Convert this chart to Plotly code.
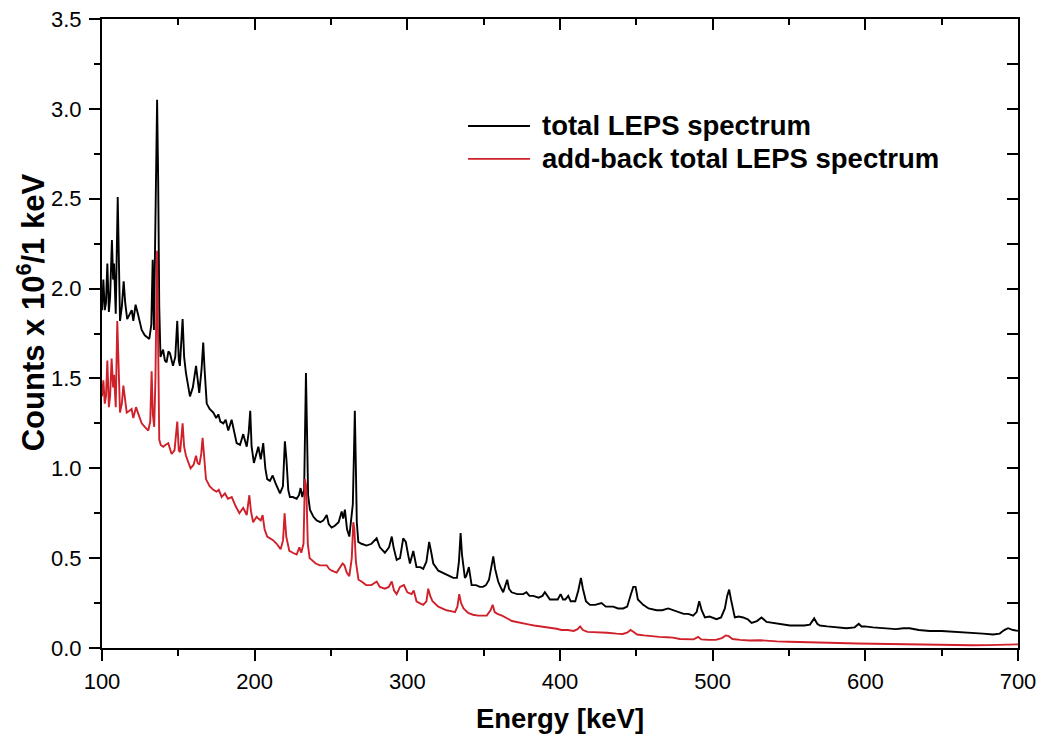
import plotly.graph_objects as go

# Total LEPS spectrum (energy in keV, counts in units of 10^6 per 1 keV)
energy_total = [
    100.0, 100.9, 101.8, 102.6, 103.5, 104.5, 105.3, 106.5, 107.3, 107.9,
    109.0, 110.3, 111.8, 113.0, 114.2, 115.2, 116.5, 118.0, 119.5, 120.5,
    122.0, 123.5, 126.0, 128.0, 131.0, 132.3, 133.2, 134.0, 135.0, 135.5,
    136.1, 136.8, 137.5, 138.3, 140.0, 141.2, 142.3, 143.5, 144.5, 146.5,
    148.0, 149.3, 150.3, 151.0, 152.8, 153.8, 155.0, 157.6, 159.5, 161.6,
    162.7, 163.7, 165.2, 166.3, 167.2, 168.6, 170.5, 172.9, 174.8, 176.2,
    177.5, 179.5, 181.0, 182.7, 184.9, 186.5, 188.2, 190.4, 192.5, 194.8,
    196.1, 197.1, 198.0, 199.5, 201.0, 202.4, 204.0, 205.6, 207.0, 208.2,
    210.0, 211.8, 213.5, 216.6, 218.5, 219.8, 220.8, 222.0, 223.1, 225.0,
    227.5, 229.0, 230.1, 231.2, 232.4, 233.0, 233.6, 234.3, 235.0, 236.2,
    238.5, 240.6, 243.0, 245.0, 247.2, 248.5, 250.4, 252.5, 255.0, 257.0,
    258.0, 259.1, 260.5, 262.0, 264.3, 265.2, 265.6, 266.2, 266.9, 267.9,
    270.0, 273.3, 276.5, 279.9, 282.0, 285.3, 288.0, 289.8, 291.0, 293.0,
    295.2, 297.3, 299.0, 300.5, 301.7, 303.9, 306.0, 308.5, 310.4, 312.5,
    314.3, 315.5, 317.0, 320.3, 323.0, 325.7, 328.0, 330.1, 332.5, 333.8,
    334.9, 335.8, 337.7, 338.6, 340.3, 342.1, 345.0, 347.5, 349.5, 351.5,
    353.5, 355.0, 356.3, 357.5, 359.5, 361.0, 362.8, 365.4, 366.6, 368.3,
    372.0, 375.9, 378.0, 380.0, 382.5, 386.0, 388.5, 390.1, 393.4, 396.0,
    398.5, 400.4, 402.0, 403.5, 405.4, 407.0, 410.0, 412.0, 413.7, 415.0,
    417.0, 419.6, 423.0, 427.2, 430.0, 434.8, 438.0, 441.4, 444.0, 446.5,
    448.0, 449.5, 451.0, 454.5, 458.0, 463.3, 467.0, 470.9, 474.0, 477.4,
    481.0, 484.0, 487.2, 489.5, 491.2, 492.8, 494.9, 498.0, 502.5, 505.5,
    508.0, 509.5, 510.8, 512.0, 514.5, 517.0, 520.0, 523.0, 525.5, 529.0,
    532.0, 535.3, 540.0, 545.0, 550.6, 556.0, 560.0, 563.7, 566.5, 568.5,
    570.2, 575.0, 580.0, 587.7, 593.0, 595.7, 597.5, 599.7, 605.0, 613.9,
    620.0, 625.0, 629.0, 635.0, 642.2, 650.0, 659.7, 665.0, 670.6, 677.0,
    683.7, 688.0, 691.0, 693.5, 696.8, 700.0,
]
counts_total = [
    1.88, 2.05, 1.88, 1.92, 2.14, 1.87, 1.95, 2.27, 2.05, 2.14,
    1.86, 2.51, 1.82, 1.90, 2.04, 1.92, 1.83, 1.86, 1.88, 1.82,
    1.91, 1.86, 1.77, 1.74, 1.72, 1.80, 2.16, 1.77, 2.30, 2.70,
    3.05, 2.60, 1.90, 1.62, 1.66, 1.60, 1.59, 1.65, 1.64, 1.57,
    1.62, 1.82, 1.60, 1.57, 1.83, 1.62, 1.53, 1.40, 1.45, 1.57,
    1.48, 1.42, 1.55, 1.70, 1.55, 1.36, 1.33, 1.31, 1.28, 1.30,
    1.26, 1.25, 1.27, 1.21, 1.27, 1.20, 1.14, 1.13, 1.19, 1.12,
    1.20, 1.32, 1.12, 1.03, 1.08, 1.12, 1.05, 1.14, 1.00, 0.94,
    0.93, 0.96, 0.92, 0.86, 0.90, 1.15, 1.05, 0.88, 0.84, 0.84,
    0.83, 0.85, 0.89, 0.84, 0.88, 1.25, 1.53, 1.20, 0.85, 0.77,
    0.73, 0.71, 0.70, 0.71, 0.74, 0.69, 0.67, 0.68, 0.70, 0.76,
    0.72, 0.77, 0.66, 0.62, 0.80, 1.15, 1.32, 1.05, 0.70, 0.59,
    0.58, 0.57, 0.58, 0.61, 0.56, 0.53, 0.56, 0.62, 0.56, 0.49,
    0.50, 0.61, 0.59, 0.52, 0.47, 0.54, 0.45, 0.45, 0.44, 0.48,
    0.59, 0.54, 0.47, 0.43, 0.42, 0.41, 0.40, 0.39, 0.39, 0.48,
    0.64, 0.52, 0.39, 0.40, 0.45, 0.35, 0.35, 0.34, 0.34, 0.35,
    0.38, 0.46, 0.51, 0.44, 0.37, 0.34, 0.31, 0.38, 0.33, 0.31,
    0.30, 0.30, 0.31, 0.29, 0.29, 0.28, 0.29, 0.31, 0.27, 0.27,
    0.27, 0.30, 0.27, 0.27, 0.29, 0.26, 0.26, 0.32, 0.39, 0.33,
    0.26, 0.24, 0.24, 0.25, 0.23, 0.23, 0.22, 0.22, 0.23, 0.30,
    0.34, 0.34, 0.27, 0.24, 0.22, 0.21, 0.21, 0.22, 0.21, 0.20,
    0.19, 0.19, 0.18, 0.20, 0.26, 0.21, 0.17, 0.175, 0.16, 0.17,
    0.22, 0.29, 0.325, 0.27, 0.17, 0.175, 0.17, 0.16, 0.14, 0.15,
    0.17, 0.145, 0.14, 0.135, 0.125, 0.125, 0.125, 0.13, 0.165, 0.135,
    0.125, 0.12, 0.115, 0.11, 0.115, 0.135, 0.12, 0.12, 0.115, 0.11,
    0.105, 0.11, 0.11, 0.10, 0.095, 0.095, 0.09, 0.09, 0.085, 0.08,
    0.075, 0.08, 0.10, 0.11, 0.10, 0.095,
]

# Add-back total LEPS spectrum
energy_addback = [
    100.0, 100.9, 101.8, 102.6, 103.5, 104.5, 105.3, 106.3, 107.3, 107.9,
    109.0, 110.0, 111.8, 113.0, 114.0, 115.2, 116.2, 118.0, 119.4, 120.5,
    122.3, 123.5, 126.0, 128.0, 130.3, 131.6, 132.5, 133.3, 134.2, 135.0,
    135.6, 136.1, 136.7, 137.5, 138.5, 140.1, 141.5, 143.4, 145.6, 147.5,
    149.3, 150.3, 151.2, 152.8, 153.8, 155.0, 158.0, 160.0, 161.6, 162.6,
    163.8, 165.0, 165.9, 167.0, 168.1, 170.5, 172.9, 175.0, 176.5, 178.4,
    180.5, 182.5, 185.0, 187.5, 190.0, 192.5, 194.8, 196.5, 197.6, 199.0,
    201.3, 202.4, 204.0, 205.2, 206.5, 208.2, 210.0, 212.0, 214.4, 217.0,
    218.6, 219.6, 220.7, 222.7, 225.0, 227.5, 229.3, 230.5, 232.0, 232.9,
    233.8, 234.8, 236.0, 237.3, 240.0, 242.8, 245.0, 247.2, 248.8, 250.5,
    253.7, 255.5, 257.6, 258.8, 260.3, 262.0, 263.6, 264.6, 265.3, 266.3,
    268.0, 270.0, 273.0, 276.5, 279.9, 282.0, 285.3, 287.8, 289.8, 291.3,
    293.0, 295.2, 297.8, 300.0, 302.8, 304.2, 306.0, 308.0, 310.4, 312.5,
    313.7, 315.0, 316.5, 320.3, 323.0, 325.7, 328.5, 331.2, 332.8, 334.0,
    335.2, 336.8, 339.9, 343.0, 346.4, 349.5, 352.0, 354.5, 355.9, 357.2,
    359.0, 362.0, 364.6, 366.5, 368.5, 372.0, 375.9, 380.0, 383.0, 386.8,
    390.0, 393.0, 397.8, 401.0, 405.0, 409.0, 411.5, 413.2, 415.0, 418.0,
    425.0, 431.0, 437.0, 441.0, 444.0, 446.2, 448.0, 450.5, 455.0, 460.0,
    465.0, 470.0, 474.0, 478.5, 483.0, 487.5, 490.5, 492.5, 497.0, 502.0,
    506.0, 508.6, 510.5, 513.0, 518.0, 524.0, 530.9, 535.0, 542.0, 550.0,
    557.0, 563.7, 567.0, 575.0, 585.0, 595.0, 605.0, 615.0, 630.0, 645.0,
    660.0, 670.0, 680.0, 690.0, 700.0,
]
counts_addback = [
    1.40, 1.49, 1.36, 1.40, 1.60, 1.34, 1.40, 1.61, 1.45, 1.52,
    1.34, 1.82, 1.31, 1.36, 1.46, 1.36, 1.31, 1.32, 1.33, 1.28,
    1.34, 1.31, 1.25, 1.23, 1.21, 1.26, 1.54, 1.30, 1.23, 1.50,
    1.85, 2.21, 1.75, 1.16, 1.13, 1.12, 1.13, 1.14, 1.08, 1.10,
    1.26, 1.10, 1.09, 1.25, 1.12, 1.07, 1.00, 1.02, 1.07, 1.03,
    1.02, 1.08, 1.17, 1.05, 0.94, 0.90, 0.88, 0.87, 0.88, 0.84,
    0.86, 0.83, 0.84, 0.79, 0.75, 0.78, 0.74, 0.85, 0.76, 0.70,
    0.73, 0.72, 0.71, 0.74, 0.66, 0.62, 0.61, 0.60, 0.58, 0.55,
    0.60, 0.75, 0.62, 0.54, 0.53, 0.52, 0.56, 0.53, 0.58, 0.94,
    0.90, 0.58, 0.50, 0.49, 0.47, 0.46, 0.46, 0.46, 0.44, 0.43,
    0.42, 0.44, 0.47, 0.46, 0.42, 0.40, 0.50, 0.70, 0.66, 0.48,
    0.38, 0.37, 0.35, 0.35, 0.37, 0.34, 0.33, 0.34, 0.37, 0.32,
    0.30, 0.34, 0.35, 0.31, 0.30, 0.32, 0.26, 0.25, 0.24, 0.26,
    0.33, 0.29, 0.26, 0.23, 0.22, 0.21, 0.205, 0.20, 0.23, 0.30,
    0.25, 0.22, 0.195, 0.185, 0.18, 0.18, 0.18, 0.21, 0.24, 0.20,
    0.19, 0.18, 0.17, 0.16, 0.15, 0.145, 0.136, 0.13, 0.125, 0.12,
    0.12, 0.115, 0.107, 0.10, 0.10, 0.095, 0.105, 0.12, 0.10, 0.09,
    0.088, 0.085, 0.08, 0.078, 0.085, 0.10, 0.09, 0.075, 0.07, 0.065,
    0.062, 0.06, 0.058, 0.05, 0.05, 0.048, 0.062, 0.048, 0.045, 0.045,
    0.055, 0.07, 0.066, 0.05, 0.045, 0.042, 0.043, 0.04, 0.037, 0.035,
    0.033, 0.035, 0.032, 0.028, 0.026, 0.025, 0.024, 0.022, 0.02, 0.018,
    0.016, 0.015, 0.016, 0.018, 0.02,
]

series_names = ["total LEPS spectrum", "add-back total LEPS spectrum"]
series_colors = ["#000000", "#d0202a"]

x_range = [100, 700]
y_range = [0, 3.5]
x_ticks = [100, 200, 300, 400, 500, 600, 700]
y_ticks = [0.0, 0.5, 1.0, 1.5, 2.0, 2.5, 3.0, 3.5]

FONT = "Liberation Sans, Arial, Helvetica, sans-serif"
LINE_W = 1.9

fig = go.Figure()
fig.add_trace(go.Scatter(x=energy_total, y=counts_total, mode="lines",
                         name=series_names[0], showlegend=False,
                         line=dict(color=series_colors[0], width=LINE_W)))
fig.add_trace(go.Scatter(x=energy_addback, y=counts_addback, mode="lines",
                         name=series_names[1], showlegend=False,
                         line=dict(color=series_colors[1], width=LINE_W)))

# empty traces so the top and right frame axes are laid out
fig.add_trace(go.Scatter(x=[], y=[], xaxis="x2", yaxis="y", showlegend=False, hoverinfo="skip"))
fig.add_trace(go.Scatter(x=[], y=[], xaxis="x", yaxis="y2", showlegend=False, hoverinfo="skip"))

axis_common = dict(showline=True, linecolor="black", linewidth=2, showgrid=False,
                   zeroline=False, tickcolor="black", tickwidth=2, automargin=False)

fig.update_layout(
    width=1043, height=740,
    margin=dict(l=102, r=25, t=19, b=92, autoexpand=False),
    paper_bgcolor="white", plot_bgcolor="white",
    font=dict(family=FONT, color="black"),
    xaxis=dict(**axis_common, range=x_range, tickvals=x_ticks, ticks="outside",
               ticklen=11, tickfont=dict(size=22), ticklabelstandoff=2,
               minor=dict(ticks="outside", dtick=50, tick0=100, ticklen=6,
                          tickwidth=2, tickcolor="black"),
               title=dict(text="<b>Energy [keV]</b>", font=dict(size=27.5), standoff=15)),
    yaxis=dict(**axis_common, range=y_range, tickvals=y_ticks, tickformat=".1f",
               ticks="outside", ticklen=11, tickfont=dict(size=22), ticklabelstandoff=3,
               minor=dict(ticks="outside", dtick=0.25, tick0=0, ticklen=6,
                          tickwidth=2, tickcolor="black")),
    xaxis2=dict(**axis_common, overlaying="x", side="top", anchor="y", range=x_range,
                tickvals=x_ticks, ticks="inside", ticklen=11, showticklabels=False,
                minor=dict(ticks="inside", dtick=50, tick0=100, ticklen=6,
                           tickwidth=2, tickcolor="black")),
    yaxis2=dict(**axis_common, overlaying="y", side="right", anchor="x", range=y_range,
                tickvals=y_ticks, ticks="inside", ticklen=11, showticklabels=False,
                minor=dict(ticks="inside", dtick=0.25, tick0=0, ticklen=11,
                           tickwidth=2, tickcolor="black")),
)

# y-axis title
fig.add_annotation(xref="paper", yref="paper", x=-0.078, y=0.533, textangle=-90,
                   xanchor="center", yanchor="middle", showarrow=False,
                   text="<b>Counts x 10<sup>6</sup>/1 keV</b>",
                   font=dict(size=31, color="black", family=FONT))

# legend drawn as sample lines with labels
legend_rows = [0.830, 0.7776]
for name, color, ypos in zip(series_names, series_colors, legend_rows):
    fig.add_shape(type="line", xref="paper", yref="paper", x0=0.3996, x1=0.4672,
                  y0=ypos, y1=ypos, line=dict(color=color, width=LINE_W))
    fig.add_annotation(xref="paper", yref="paper", x=0.478, y=ypos, xanchor="left",
                       yanchor="middle", showarrow=False, text="<b>" + name + "</b>",
                       font=dict(size=27.5, color="black", family=FONT))

fig.write_html("out.html")
